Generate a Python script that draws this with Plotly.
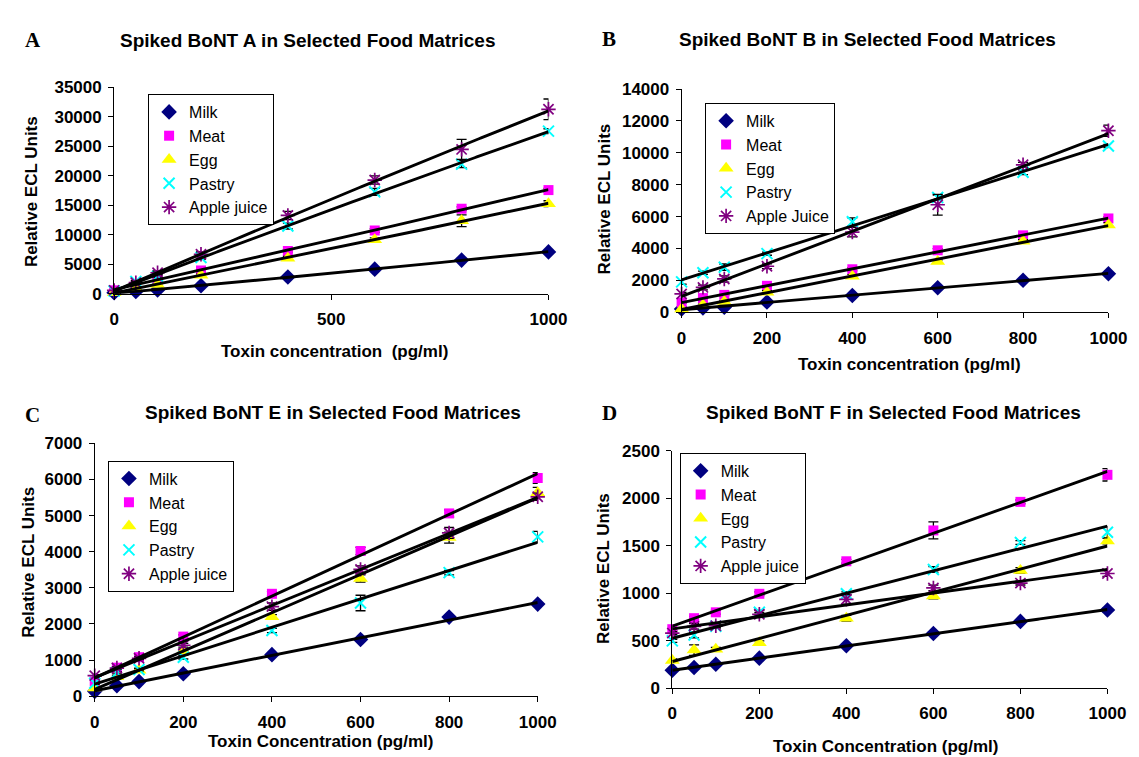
import numpy as np
import plotly.graph_objects as go

W, H = 1139, 757

# ---------------- data ----------------
conc = [0, 50, 100, 200, 400, 600, 800, 1000]
series_names_A = ["Milk", "Meat", "Egg", "Pastry", "Apple juice"]
series_names_B = ["Milk", "Meat", "Egg", "Pastry", "Apple Juice"]

# Panel A (BoNT A)
milk_A = [200, 400, 660, 1380, 2870, 4190, 5730, 7120]
meat_A = [600, 1500, 2700, 3970, 7270, 10750, 14440, 17600]
egg_A = [200, 900, 1600, 3140, 6060, 9200, 12400, 15290]
pastry_A = [500, 2100, 3000, 6170, 11500, 17300, 22000, 27600]
apple_A = [600, 1900, 3580, 6720, 13300, 19300, 24500, 31300]
milk_A_err = [50, 50, 50, 100, 100, 150, 150, 150]
meat_A_err = [100, 100, 150, 200, 200, 300, 300, 300]
egg_A_err = [100, 100, 150, 200, 300, 300, 1000, 500]
pastry_A_err = [100, 200, 200, 300, 500, 600, 600, 400]
apple_A_err = [200, 200, 300, 400, 700, 700, 1700, 1750]

# Panel B (BoNT B)
milk_B = [200, 265, 300, 630, 1040, 1530, 2000, 2410]
meat_B = [600, 880, 1080, 1650, 2690, 3880, 4820, 5880]
egg_B = [200, 450, 670, 1250, 2250, 3180, 4450, 5470]
pastry_B = [1900, 2470, 2820, 3670, 5670, 7200, 8780, 10430]
apple_B = [1140, 1550, 2080, 2880, 5020, 6740, 9250, 11390]
milk_B_err = [30, 30, 30, 40, 50, 50, 50, 50]
meat_B_err = [50, 50, 50, 50, 100, 100, 100, 100]
egg_B_err = [50, 50, 50, 100, 100, 100, 100, 150]
pastry_B_err = [150, 100, 200, 100, 250, 150, 150, 100]
apple_B_err = [100, 150, 200, 150, 300, 650, 150, 350]

# Panel C (BoNT E)
milk_C = [135, 290, 405, 620, 1150, 1570, 2190, 2550]
meat_C = [405, 790, 1080, 1650, 2835, 4020, 5060, 6040]
egg_C = [225, 540, 720, 1260, 2200, 3260, 4390, 5630]
pastry_C = [360, 650, 740, 1080, 1820, 2580, 3420, 4410]
apple_C = [570, 780, 1050, 1410, 2480, 3510, 4520, 5520]
milk_C_err = [20, 20, 20, 30, 40, 40, 40, 40]
meat_C_err = [30, 30, 40, 50, 60, 100, 100, 150]
egg_C_err = [30, 30, 40, 50, 60, 100, 150, 150]
pastry_C_err = [30, 30, 40, 50, 60, 215, 60, 150]
apple_C_err = [30, 30, 40, 50, 100, 100, 150, 100]

# Panel D (BoNT F)
milk_D = [188, 216, 250, 315, 445, 575, 702, 823]
meat_D = [620, 736, 798, 993, 1336, 1661, 1962, 2247]
egg_D = [291, 400, 408, 476, 736, 969, 1240, 1550]
pastry_D = [497, 558, 651, 798, 993, 1250, 1534, 1642]
apple_D = [579, 650, 657, 777, 935, 1055, 1106, 1207]
milk_D_err = [10, 10, 10, 10, 15, 20, 15, 20]
meat_D_err = [15, 20, 20, 20, 20, 90, 20, 65]
egg_D_err = [15, 55, 20, 20, 30, 30, 30, 30]
pastry_D_err = [15, 30, 20, 20, 20, 30, 20, 60]
apple_D_err = [15, 30, 20, 20, 50, 30, 20, 30]

panel_titles = ["Spiked BoNT A in Selected Food Matrices",
                "Spiked BoNT B in Selected Food Matrices",
                "Spiked BoNT E in Selected Food Matrices",
                "Spiked BoNT F in Selected Food Matrices"]
panel_letters = ["A", "B", "C", "D"]
x_titles = ["Toxin concentration  (pg/ml)", "Toxin concentration (pg/ml)",
            "Toxin Concentration (pg/ml)", "Toxin Concentration (pg/ml)"]
y_title = "Relative ECL Units"
y_max = [35000, 14000, 7000, 2500]
y_dtick = [5000, 2000, 1000, 500]
x_dtick = [500, 200, 200, 200]
fit_degree = [2, 1, 1, 1]

# ---------------- styles ----------------
FONT = "Liberation Sans, Arial, sans-serif"
styles = [
    dict(symbol="diamond", color="#000080", size=12, line=dict(color="#000080", width=0)),
    dict(symbol="square", color="#FF00FF", size=10, line=dict(color="#FF00FF", width=0)),
    dict(symbol="triangle-up", color="#FFFF00", size=13, line=dict(color="#FFFF00", width=0)),
    dict(symbol="x-thin-open", color="#00FFFF", size=11, line=dict(color="#00FFFF", width=2)),
    dict(symbol="asterisk-open", color="#800080", size=12, line=dict(color="#800080", width=1.7)),
]

panels = [
    dict(series=[milk_A, meat_A, egg_A, pastry_A, apple_A],
         errs=[milk_A_err, meat_A_err, egg_A_err, pastry_A_err, apple_A_err],
         names=series_names_A,
         xpx=(103.3, 547), ypx=(72.3, 284),
         title=(301, 24), letter=(20, 24), xt=(328, 343), yt=(19, 179), leg=(138, 79)),
    dict(series=[milk_B, meat_B, egg_B, pastry_B, apple_B],
         errs=[milk_B_err, meat_B_err, egg_B_err, pastry_B_err, apple_B_err],
         names=series_names_B,
         xpx=(683, 1119), ypx=(74, 302.7),
         title=(873, 23), letter=(609, 23), xt=(916, 356), yt=(604, 187), leg=(707, 88)),
    dict(series=[milk_C, meat_C, egg_C, pastry_C, apple_C],
         errs=[milk_C_err, meat_C_err, egg_C_err, pastry_C_err, apple_C_err],
         names=series_names_A,
         xpx=(83.5, 536), ypx=(437.3, 696.7),
         title=(327, 406), letter=(20, 408), xt=(314, 743), yt=(16, 559), leg=(97, 455)),
    dict(series=[milk_D, meat_D, egg_D, pastry_D, apple_D],
         errs=[milk_D_err, meat_D_err, egg_D_err, pastry_D_err, apple_D_err],
         names=series_names_A,
         xpx=(673.5, 1118), ypx=(445, 688.3),
         title=(899, 406), letter=(609, 406), xt=(891, 748), yt=(604, 566), leg=(681, 447)),
]

fig = go.Figure()
annotations = []
layout_axes = {}
fit_x = np.linspace(0, 1000, 201)

for i, p in enumerate(panels):
    k = "" if i == 0 else str(i + 1)
    xa, ya = "x" + k, "y" + k
    leg = "legend" + k
    # markers with error bars
    for s, (vals, errs, name) in enumerate(zip(p["series"], p["errs"], p["names"])):
        st = styles[s]
        fig.add_trace(go.Scatter(
            x=conc, y=vals, mode="markers", name=name,
            marker=dict(symbol=st["symbol"], color=st["color"], size=st["size"], line=st["line"]),
            error_y=dict(type="data", array=errs, visible=True, color="black", thickness=1.3, width=5),
            xaxis=xa, yaxis=ya, legend=leg, cliponaxis=False,
        ))
    # trend lines
    for s, vals in enumerate(p["series"]):
        coef = np.polyfit(conc, vals, fit_degree[i])
        fig.add_trace(go.Scatter(
            x=fit_x, y=np.polyval(coef, fit_x), mode="lines",
            line=dict(color="black", width=2.9), showlegend=False, hoverinfo="skip",
            xaxis=xa, yaxis=ya, cliponaxis=False,
        ))
    x0, x1 = p["xpx"]
    yt_, yb_ = p["ypx"]
    common = dict(showline=True, linecolor="black", linewidth=1, ticks="outside", ticklen=5,
                  tickcolor="black", tickwidth=1, showgrid=False, zeroline=False,
                  tickformat="d",
                  tickfont=dict(family=FONT, size=17, color="black", weight="bold"))
    layout_axes["xaxis" + k] = dict(domain=[x0 / W, x1 / W], range=[0, 1000], dtick=x_dtick[i],
                                    tick0=0, anchor=ya, ticklabelstandoff=5, **common)
    layout_axes["yaxis" + k] = dict(domain=[1 - yb_ / H, 1 - yt_ / H], range=[0, y_max[i]],
                                    dtick=y_dtick[i], tick0=0, anchor=xa, ticklabelstandoff=3, **common)
    layout_axes[leg] = dict(x=p["leg"][0] / W, y=1 - p["leg"][1] / H, xanchor="left", yanchor="top",
                            bgcolor="white", bordercolor="black", borderwidth=1, itemwidth=30,
                            font=dict(family=FONT, size=16, color="black"), tracegroupgap=0)
    # texts
    annotations.append(dict(text="<b>" + panel_titles[i] + "</b>", x=p["title"][0] / W, y=1 - p["title"][1] / H,
                            xref="paper", yref="paper", showarrow=False, xanchor="center", yanchor="middle",
                            font=dict(family=FONT, size=19, color="black")))
    annotations.append(dict(text="<b>" + panel_letters[i] + "</b>", x=p["letter"][0] / W, y=1 - p["letter"][1] / H,
                            xref="paper", yref="paper", showarrow=False, xanchor="center", yanchor="middle",
                            font=dict(family="Liberation Serif, Times New Roman, serif", size=21, color="black")))
    annotations.append(dict(text="<b>" + x_titles[i] + "</b>", x=p["xt"][0] / W, y=1 - p["xt"][1] / H,
                            xref="paper", yref="paper", showarrow=False, xanchor="center", yanchor="middle",
                            font=dict(family=FONT, size=17, color="black")))
    annotations.append(dict(text="<b>" + y_title + "</b>", x=p["yt"][0] / W, y=1 - p["yt"][1] / H,
                            xref="paper", yref="paper", showarrow=False, xanchor="center", yanchor="middle",
                            textangle=-90, font=dict(family=FONT, size=17, color="black")))

fig.update_layout(
    width=W, height=H, margin=dict(l=0, r=0, t=0, b=0),
    paper_bgcolor="white", plot_bgcolor="white",
    annotations=annotations, **layout_axes,
)

fig.write_html("out.html")
